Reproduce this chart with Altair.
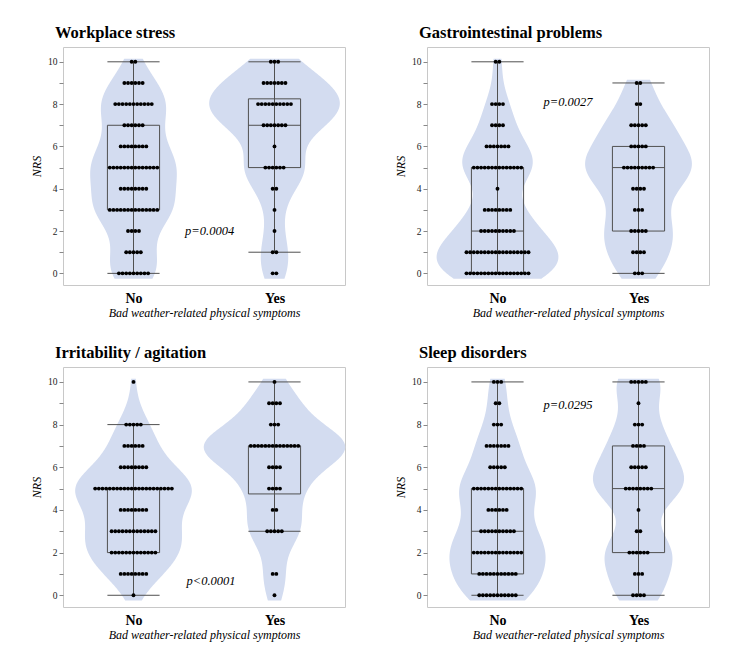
import altair as alt
import pandas as pd

# ---- data (counts of respondents per NRS score 0..10) ----
levels = list(range(11))
panel_names = ["Workplace stress", "Gastrointestinal problems",
               "Irritability / agitation", "Sleep disorders"]
group_names = ["No", "Yes"]
group_pos = [0.5, 1.5]

ws_no = [9, 5, 4, 14, 8, 14, 8, 6, 11, 6, 2]
ws_yes = [2, 2, 1, 1, 2, 6, 1, 7, 10, 7, 3]
gi_no = [18, 18, 10, 8, 1, 14, 7, 4, 4, 0, 2]
gi_yes = [3, 4, 5, 3, 4, 9, 5, 5, 2, 2, 0]
ia_no = [1, 8, 13, 13, 8, 22, 8, 6, 5, 0, 1]
ia_yes = [1, 2, 0, 5, 2, 4, 4, 14, 3, 4, 1]
sd_no = [11, 11, 14, 10, 6, 14, 5, 7, 3, 2, 3]
sd_yes = [4, 3, 6, 2, 1, 8, 5, 4, 3, 1, 5]

# box-plot statistics (order: WS No, WS Yes, GI No, GI Yes, IA No, IA Yes, SD No, SD Yes)
box_low = [0, 1, 0, 0, 0, 3, 0, 0]
box_q1 = [3, 5, 0, 2, 2, 4.75, 1, 2]
box_med = [5, 7, 2, 5, 5, 7, 3, 5]
box_q3 = [7, 8.25, 5, 6, 5, 7, 5, 7]
box_high = [10, 10, 10, 9, 8, 10, 10, 10]

p_text = ["p=0.0004", "p=0.0027", "p<0.0001", "p=0.0295"]
p_x = [1.04, 1.0, 1.05, 1.0]
p_y = [2.0, 8.1, 0.65, 8.9]

counts = {
    ("Workplace stress", "No"): ws_no, ("Workplace stress", "Yes"): ws_yes,
    ("Gastrointestinal problems", "No"): gi_no, ("Gastrointestinal problems", "Yes"): gi_yes,
    ("Irritability / agitation", "No"): ia_no, ("Irritability / agitation", "Yes"): ia_yes,
    ("Sleep disorders", "No"): sd_no, ("Sleep disorders", "Yes"): sd_yes,
}

rows = []
for (pn, g), cs in counts.items():
    c = group_pos[group_names.index(g)]
    for lv, n in zip(levels, cs):
        for _ in range(n):
            rows.append({"panel": pn, "grp": g, "center": c, "value": lv})
dots = pd.DataFrame(rows)

box_rows = []
k = 0
for pn in panel_names:
    for g, c in zip(group_names, group_pos):
        box_rows.append({"panel": pn, "grp": g, "center": c, "low": box_low[k],
                         "q1": box_q1[k], "med": box_med[k], "q3": box_q3[k],
                         "high": box_high[k]})
        k += 1
boxes = pd.DataFrame(box_rows)
pvals = pd.DataFrame({"panel": panel_names, "text": p_text, "x": p_x, "y": p_y})

FONT = "Liberation Serif"
VIOLIN = "#d3dcf0"
LINE = "#505050"
HALF_BOX = 0.185
DOT_STEP = 0.0259
DENS_SCALE = 2.45

xs = alt.Scale(domain=[0, 2], nice=False, zero=False)
ys = alt.Scale(domain=[-0.55, 10.7], nice=False, zero=False)
xaxis = alt.Axis(values=[0.5, 1.5], labelExpr="datum.value < 1 ? 'No' : 'Yes'",
                 ticks=False, domain=False, grid=False, labelFontWeight="bold",
                 labelFontSize=14, labelColor="black", labelPadding=6,
                 title="Bad weather-related physical symptoms", titleFontStyle="italic",
                 titleFontWeight="normal", titleFontSize=12, titlePadding=2,
                 titleColor="black")
yaxis = alt.Axis(values=levels, labelExpr="datum.value % 2 == 0 ? datum.label : ''",
                 tickSize=4, tickColor="#888888", domain=False, grid=False,
                 labelFontSize=9.5, labelColor="#222222", labelPadding=2,
                 title="NRS", titleFontStyle="italic", titleFontWeight="normal",
                 titleFontSize=12, titlePadding=4, titleColor="black")


def violin_layer(name, g, c):
    cs = counts[(name, g)]
    present = [lv for lv, n in zip(levels, cs) if n > 0]
    lo, hi = min(present) - 0.25, max(present) + 0.15
    return alt.Chart(dots).transform_filter(
        (alt.datum.panel == name) & (alt.datum.grp == g)
    ).transform_density(
        "value", bandwidth=0.9, extent=[lo, hi], steps=160, as_=["v", "dens"]
    ).transform_calculate(
        xl=f"{c} - {DENS_SCALE} * datum.dens", xr=f"{c} + {DENS_SCALE} * datum.dens"
    ).mark_area(orient="horizontal", color=VIOLIN, opacity=1).encode(
        y=alt.Y("v:Q", scale=ys, axis=yaxis),
        x=alt.X("xl:Q", scale=xs, axis=xaxis),
        x2="xr:Q",
    )


def panel(idx, height):
    name = panel_names[idx]
    base = alt.Chart(dots).transform_filter(alt.datum.panel == name)
    v_no = violin_layer(name, "No", 0.5)
    v_yes = violin_layer(name, "Yes", 1.5)

    bbase = alt.Chart(boxes).transform_filter(alt.datum.panel == name).transform_calculate(
        bl=f"datum.center - {HALF_BOX}", br=f"datum.center + {HALF_BOX}")
    whisker = bbase.mark_rule(color=LINE, strokeWidth=1).encode(
        x=alt.X("center:Q", scale=xs, axis=xaxis),
        y=alt.Y("low:Q", scale=ys, axis=yaxis), y2="high:Q")
    cap_lo = bbase.mark_rule(color=LINE, strokeWidth=1).encode(
        x=alt.X("bl:Q", scale=xs, axis=xaxis), x2="br:Q",
        y=alt.Y("low:Q", scale=ys, axis=yaxis))
    cap_hi = bbase.mark_rule(color=LINE, strokeWidth=1).encode(
        x=alt.X("bl:Q", scale=xs, axis=xaxis), x2="br:Q",
        y=alt.Y("high:Q", scale=ys, axis=yaxis))
    box = bbase.mark_rect(fillOpacity=0, stroke=LINE, strokeWidth=1).encode(
        x=alt.X("bl:Q", scale=xs, axis=xaxis), x2="br:Q",
        y=alt.Y("q1:Q", scale=ys, axis=yaxis), y2="q3:Q")
    median = bbase.mark_rule(color=LINE, strokeWidth=1).encode(
        x=alt.X("bl:Q", scale=xs, axis=xaxis), x2="br:Q",
        y=alt.Y("med:Q", scale=ys, axis=yaxis))

    pts = base.transform_window(
        rank="row_number()", groupby=["grp", "value"]
    ).transform_joinaggregate(
        n="count()", groupby=["grp", "value"]
    ).transform_calculate(
        xd=f"datum.center + (datum.rank - (datum.n + 1) / 2) * {DOT_STEP}"
    ).mark_circle(size=15, color="black", opacity=1).encode(
        x=alt.X("xd:Q", scale=xs, axis=xaxis),
        y=alt.Y("value:Q", scale=ys, axis=yaxis))

    ptxt = alt.Chart(pvals).transform_filter(alt.datum.panel == name).mark_text(
        font=FONT, fontStyle="italic", fontSize=12.5, color="black").encode(
        x=alt.X("x:Q", scale=xs, axis=xaxis),
        y=alt.Y("y:Q", scale=ys, axis=yaxis), text="text:N")

    return alt.layer(v_no, v_yes, whisker, cap_lo, cap_hi, box, median, pts, ptxt).properties(
        width=282, height=height,
        title=alt.TitleParams(name, anchor="start", frame="group", dx=-8, offset=6,
                              fontSize=16.5, font=FONT, fontWeight="bold", color="black"))


chart = alt.vconcat(
    alt.hconcat(panel(0, 238), panel(1, 238), spacing=48),
    alt.hconcat(panel(2, 240), panel(3, 240), spacing=48),
    spacing=25,
).properties(
    padding={"left": 22, "top": 16, "right": 5, "bottom": 5}
).configure_view(
    stroke="#c8c8c8"
).configure_axis(
    labelFont=FONT, titleFont=FONT
).configure_title(font=FONT)

chart.save("out.html", embed_options={"renderer": "svg", "actions": False})
